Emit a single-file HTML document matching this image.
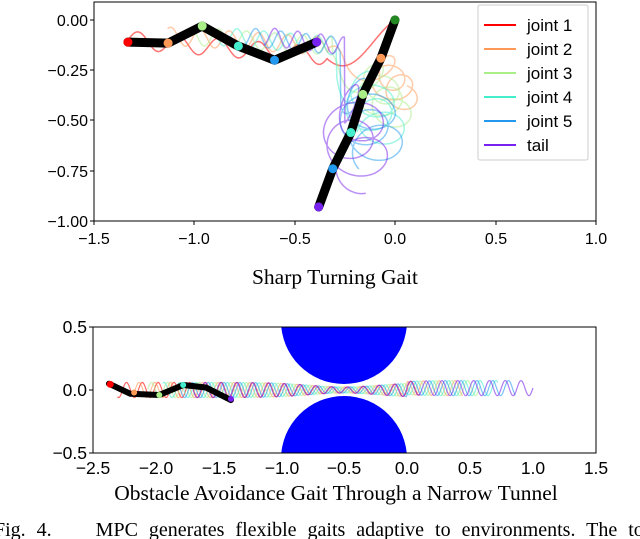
<!DOCTYPE html>
<html><head><meta charset="utf-8"><style>
html,body{margin:0;padding:0;background:#fff;}
svg{display:block;font-family:"Liberation Sans",sans-serif;}
.t{font-family:"Liberation Serif",serif;}
</style></head><body>
<svg id="s" width="640" height="539" viewBox="0 0 640 539" xmlns="http://www.w3.org/2000/svg">
<defs>
<clipPath id="c1"><rect x="94" y="2" width="502" height="219"/></clipPath>
<clipPath id="c2"><rect x="93" y="327" width="503" height="126"/></clipPath>
</defs>
<g id="top" clip-path="url(#c1)"></g>
<g id="bot" clip-path="url(#c2)">
<circle cx="344" cy="321" r="63" fill="#0000ff"/>
<circle cx="344" cy="459" r="63" fill="#0000ff"/>
</g>
<rect x="94" y="2" width="502" height="219" fill="none" stroke="#000" stroke-width="1"/>
<g font-size="16" fill="#000" text-anchor="end">
<text x="88" y="26">0.00</text><text x="88" y="76">−0.25</text><text x="88" y="126">−0.50</text><text x="88" y="177">−0.75</text><text x="88" y="227">−1.00</text>
</g>
<g stroke="#000"><line x1="90" y1="20" x2="94" y2="20"/><line x1="90" y1="70" x2="94" y2="70"/><line x1="90" y1="120" x2="94" y2="120"/><line x1="90" y1="171" x2="94" y2="171"/><line x1="90" y1="221" x2="94" y2="221"/>
<line x1="94" y1="221" x2="94" y2="225"/><line x1="194" y1="221" x2="194" y2="225"/><line x1="295" y1="221" x2="295" y2="225"/><line x1="395" y1="221" x2="395" y2="225"/><line x1="496" y1="221" x2="496" y2="225"/><line x1="596" y1="221" x2="596" y2="225"/></g>
<g font-size="16" text-anchor="middle">
<text x="94" y="244">−1.5</text><text x="194" y="244">−1.0</text><text x="295" y="244">−0.5</text><text x="395" y="244">0.0</text><text x="496" y="244">0.5</text><text x="596" y="244">1.0</text>
</g>
<rect x="478" y="5" width="110" height="155" fill="#fff" stroke="#ccc" rx="2"/>
<g font-size="17" stroke-width="2">
<line x1="484" y1="25" x2="516" y2="25" stroke="#ff0000"/><text x="527" y="31">joint 1</text>
<line x1="484" y1="49" x2="516" y2="49" stroke="#ff9955"/><text x="527" y="55">joint 2</text>
<line x1="484" y1="73" x2="516" y2="73" stroke="#aaee88"/><text x="527" y="79">joint 3</text>
<line x1="484" y1="97" x2="516" y2="97" stroke="#44eecc"/><text x="527" y="103">joint 4</text>
<line x1="484" y1="121" x2="516" y2="121" stroke="#2299ee"/><text x="527" y="127">joint 5</text>
<line x1="484" y1="145" x2="516" y2="145" stroke="#7722ee"/><text x="527" y="151">tail</text>
</g>
<text class="t" x="335" y="284" font-size="21.5" text-anchor="middle">Sharp Turning Gait</text>
<rect x="93" y="327" width="503" height="126" fill="none" stroke="#000"/>
<g stroke="#000"><line x1="89" y1="327" x2="93" y2="327"/><line x1="89" y1="390" x2="93" y2="390"/><line x1="89" y1="453" x2="93" y2="453"/></g>
<g font-size="17.5" text-anchor="end">
<text x="87" y="333">0.5</text><text x="87" y="396">0.0</text><text x="87" y="459">−0.5</text>
</g>
<g font-size="17.5" text-anchor="middle">
<text x="93" y="474">−2.5</text><text x="156" y="474">−2.0</text><text x="219" y="474">−1.5</text><text x="282" y="474">−1.0</text><text x="344" y="474">−0.5</text><text x="407" y="474">0.0</text><text x="470" y="474">0.5</text><text x="533" y="474">1.0</text><text x="596" y="474">1.5</text>
</g>
<text class="t" x="336" y="500" font-size="21.5" text-anchor="middle">Obstacle Avoidance Gait Through a Narrow Tunnel</text>
<text class="t" x="-6" y="536" font-size="20" word-spacing="6" xml:space="preserve">Fig. 4.    MPC generates flexible gaits adaptive to environments. The top</text>
</svg>
<script>
var NS="http://www.w3.org/2000/svg";
function P(g,d,c,w,o){var p=document.createElementNS(NS,"path");p.setAttribute("d",d);p.setAttribute("fill","none");p.setAttribute("stroke",c);p.setAttribute("stroke-width",w);p.setAttribute("stroke-opacity",o||1);p.setAttribute("stroke-linejoin","round");p.setAttribute("stroke-linecap","round");g.appendChild(p);}
function C(g,x,y,r,c){var e=document.createElementNS(NS,"circle");e.setAttribute("cx",x);e.setAttribute("cy",y);e.setAttribute("r",r);e.setAttribute("fill",c);g.appendChild(e);}
var T=document.getElementById("top"),B=document.getElementById("bot");
function tx(x){return 395+x*200.8}function ty(y){return 20-y*201}
function bx(x){return 407+x*125.75}function by(y){return 390-y*126}
var cols=["#ff0000","#ff9955","#aaee88","#44eecc","#2299ee","#7722ee"];
(function(){var d="";for(var i=0;i<=200;i++){var s=i/200;var x,y;
 if(s<0.6){var u=s/0.6;x=-1.33+u*1.0;y=-0.1-0.08*u+0.045*Math.sin(u*5*6.28);}
 else{var u=(s-0.6)/0.4;x=-0.33+u*0.33;y=(1-u)*(-0.2-0.15*Math.sin(u*3))+u*0;}
 d+=(i?"L":"M")+tx(x).toFixed(1)+","+ty(y).toFixed(1);}P(T,d,cols[0],1.5,0.55);})();
var cxs=[0,0.0,-0.05,-0.1,-0.12,-0.2];
for(var k=1;k<6;k++){var d="";var n=400;
 var xs=-1.25+k*0.12, xe=-0.35+k*0.02;
 var cx=cxs[k], yTop=-0.15-0.05*k, yBot=-0.3-0.09*k;
 for(var i=0;i<=n;i++){var s=i/n;var x,y;
  if(s<0.45){var u=s/0.45;x=xs+u*(xe-xs);y=-0.08-0.05*u+0.045*Math.sin(u*(6-k*0.5)*6.28+k);}
  else{var u=(s-0.45)/0.55;var th=u*4*6.28+k;var r=0.07+0.012*k;
   var bx0=xe+(cx-xe)*Math.min(1,u*3);
   x=bx0+r*Math.cos(th)*Math.min(1,u*4)+0.04*Math.sin(u*9);y=(yTop+(yBot-yTop)*u)+r*0.9*Math.sin(th);}
  d+=(i?"L":"M")+tx(x).toFixed(1)+","+ty(y).toFixed(1);}
 P(T,d,cols[k],1.5,0.5);}
P(T,"M"+tx(-1.33)+","+ty(-0.11)+"L"+tx(-1.13)+","+ty(-0.115)+"L"+tx(-0.96)+","+ty(-0.03)+"L"+tx(-0.78)+","+ty(-0.13)+"L"+tx(-0.6)+","+ty(-0.2)+"L"+tx(-0.39)+","+ty(-0.11),"#000",9);
P(T,"M"+tx(0)+","+ty(0)+"L"+tx(-0.07)+","+ty(-0.19)+"L"+tx(-0.16)+","+ty(-0.37)+"L"+tx(-0.22)+","+ty(-0.56)+"L"+tx(-0.31)+","+ty(-0.74)+"L"+tx(-0.38)+","+ty(-0.93),"#000",9);
var pts=[[-1.33,-0.11],[-1.13,-0.115],[-0.96,-0.03],[-0.78,-0.13],[-0.6,-0.2],[-0.39,-0.11]];
pts.forEach(function(p,i){C(T,tx(p[0]),ty(p[1]),4.5,cols[i]);});
var pts2=[[0,0],[-0.07,-0.19],[-0.16,-0.37],[-0.22,-0.56],[-0.31,-0.74],[-0.38,-0.93]];
pts2.forEach(function(p,i){C(T,tx(p[0]),ty(p[1]),4.5,i==0?"#228822":cols[i]);});
for(var k=0;k<6;k++){var d="";var n=600;var x0=-2.3+0.12*k, x1=k==0?0.1:0.3+0.14*k;
 for(var i=0;i<=n;i++){var s=i/n;var x=x0+s*(x1-x0);var amp=0.06*(1-0.6*Math.exp(-Math.pow((x+0.5)/0.4,2)));
  var y=amp*Math.sin(x*50+k*1.3)+(x>0?0.015:0);
  d+=(i?"L":"M")+bx(x).toFixed(1)+","+by(y).toFixed(1);}
 P(B,d,cols[k],1.2,0.6);}
var bp=[[-2.37,0.05],[-2.2,-0.03],[-1.97,-0.04],[-1.78,0.04],[-1.6,0.02],[-1.4,-0.08]];
var d="M"+bx(bp[0][0])+","+by(bp[0][1]);for(var i=1;i<bp.length;i++){d+="L"+bx(bp[i][0])+","+by(bp[i][1]);}
P(B,d,"#000",6);
C(B,bx(-2.36),by(0.045),3.5,"#ff0000");C(B,bx(-2.17),by(-0.02),3,"#ff9955");C(B,bx(-1.97),by(-0.04),3,"#aaee88");C(B,bx(-1.78),by(0.04),3,"#44eecc");C(B,bx(-1.4),by(-0.07),3,"#7722ee");
</script>
</body></html>
